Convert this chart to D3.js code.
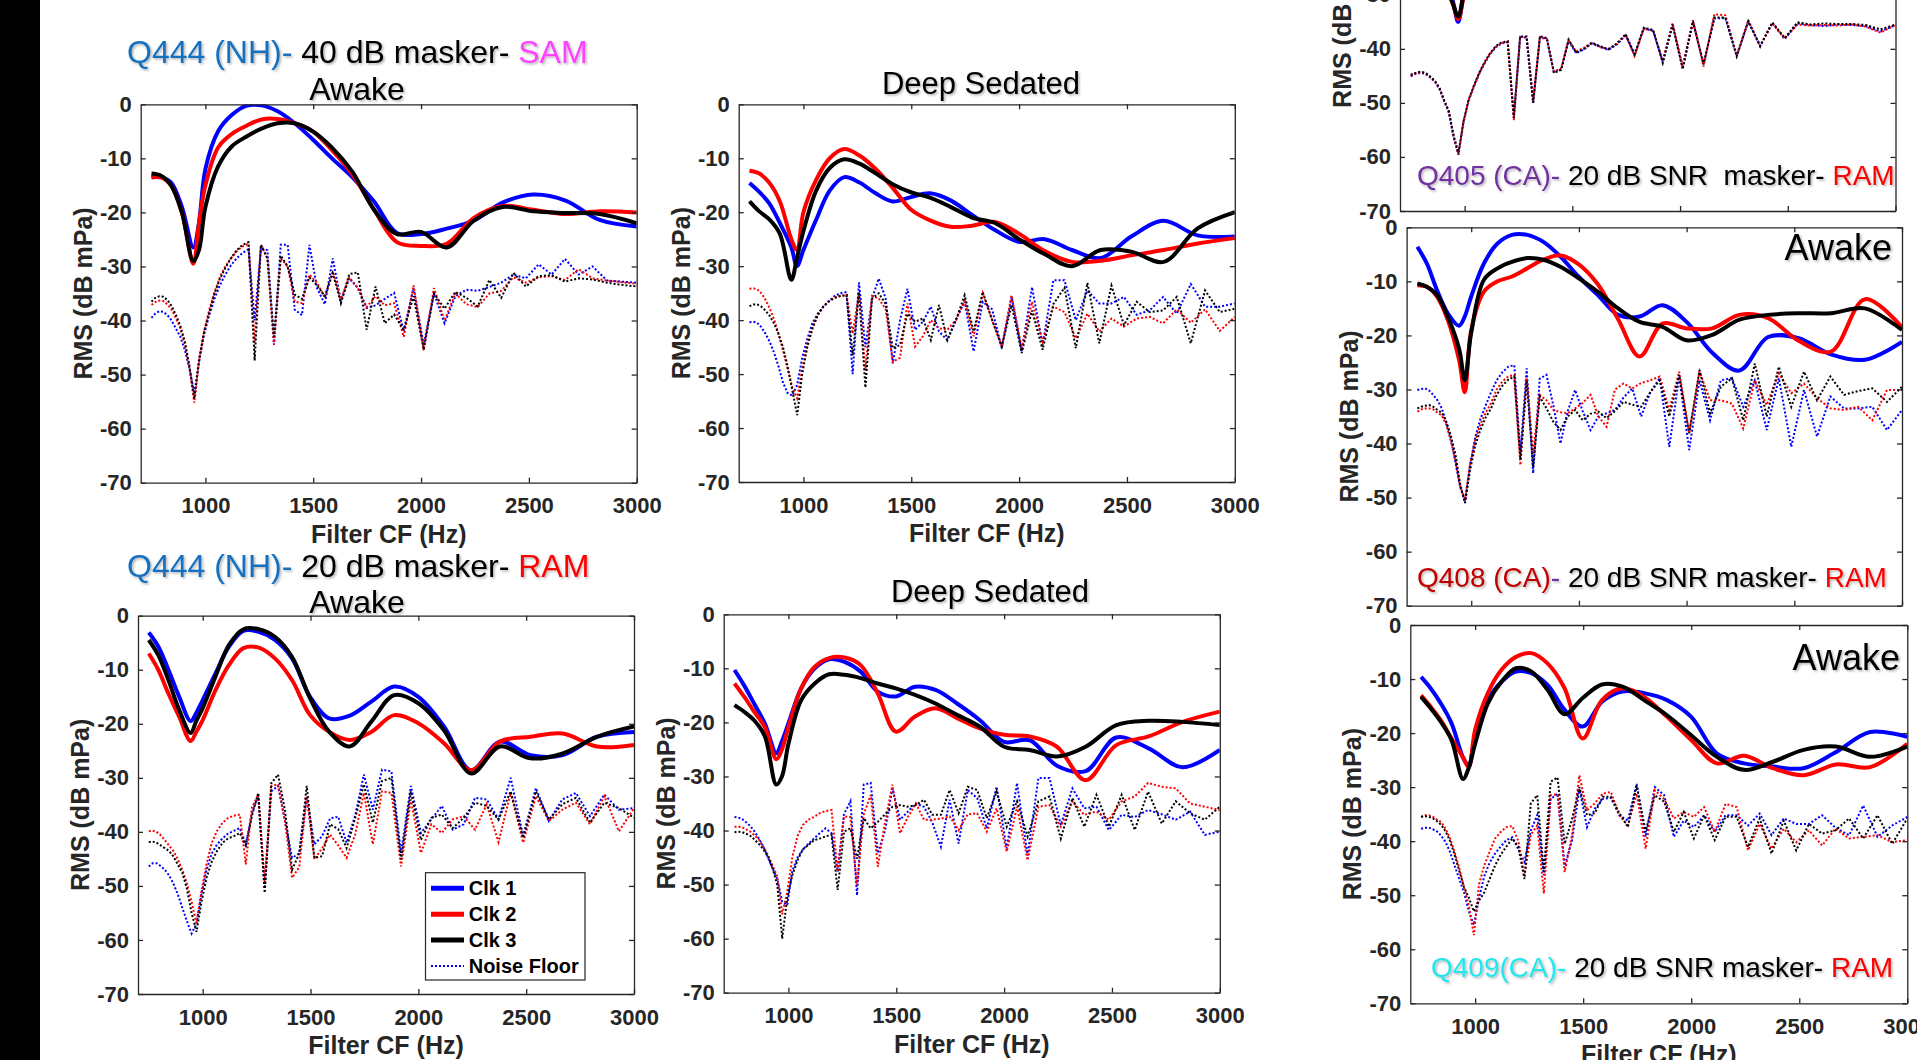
<!DOCTYPE html>
<html>
<head>
<meta charset="utf-8">
<title>RMS vs Filter CF</title>
<script src="https://cdn.jsdelivr.net/npm/d3@7"></script>
<style>
  body { margin: 0; background: #fff; overflow: hidden; }
  svg { display: block; font-family: "Liberation Sans", Arial, Helvetica, sans-serif; }
</style>
</head>
<body>
<script>
const WIDTH = 1917, HEIGHT = 1060;

// filter centre frequencies (Hz)
const cfClk = [750, 794, 841, 891, 944, 970, 1000, 1059, 1122, 1189, 1260, 1335, 1414, 1498,
  1587, 1682, 1782, 1888, 2000, 2119, 2245, 2378, 2520, 2670, 2828, 3000];
const cfNoise = [750, 767.8, 786.1, 804.8, 823.9, 843.5, 863.5, 884.1, 905.1, 926.6,
  948.6, 971.2, 994.3, 1017.9, 1042.1, 1066.9, 1092.2, 1118.2, 1144.8, 1172.0,
  1199.9, 1228.4, 1257.6, 1287.5, 1318.1, 1349.4, 1381.5, 1414.4, 1448.0, 1482.4,
  1517.7, 1553.8, 1590.7, 1628.5, 1667.2, 1706.9, 1747.5, 1789.0, 1831.6, 1875.1,
  1919.7, 1965.3, 2012.1, 2059.9, 2108.9, 2159.0, 2210.4, 2262.9, 2316.7, 2371.8,
  2428.2, 2485.9, 2545.0, 2605.5, 2667.4, 2730.8, 2795.8, 2862.2, 2930.3, 3000];

const xTicks = [1000, 1500, 2000, 2500, 3000];
const yTicks = [0, -10, -20, -30, -40, -50, -60, -70];
const seriesNames = ["Clk 1", "Clk 2", "Clk 3", "Noise Floor"];

// Q444 40 dB SAM - awake
const aClk1 = [-13.5, -13.5, -14.5, -19, -26.5, -22, -12, -5, -2, -0.3, -0.2, -1.3, -3.5, -6.5, -10, -13.5, -18, -23.8, -24, -23, -21.5, -18.2, -16.7, -17.8, -21.4, -22.6];
const aClk2 = [-13.5, -13.5, -15, -20, -29.5, -22, -15, -8, -5.5, -4, -2.8, -2.7, -3.5, -5, -8.5, -13, -19.5, -25.5, -26.2, -25.8, -21, -18.8, -19.5, -20.3, -19.8, -20];
const aClk3 = [-12.8, -13.2, -15, -20, -29, -27, -19, -11.5, -7.8, -6, -4.5, -3.5, -3.5, -5, -8, -12.5, -19.5, -24, -23.6, -26.5, -21.5, -19, -19.8, -20.1, -20.3, -22];
const aNoise1 = [-39.5, -38.7, -38.3, -38.4, -39, -40, -41.5, -43, -45.5, -49, -53.5, -47.5, -42.5, -39, -36, -33.5, -31.5, -29.8, -28.5, -27.5,
  -26.8, -40, -26.5, -27, -44.5, -26, -26, -38, -39, -26, -34, -37, -28.5, -36.5, -32.2, -34, -37.7, -37.2, -36, -34.9,
  -42, -34, -44.5, -35, -40.5, -35.5, -34.3, -34.5, -33.8, -33, -31.5, -32.2, -29.6, -31.5, -28.6, -31.5, -30, -32.6, -32.8, -33];
const aNoise2 = [-37.1, -36.6, -36.3, -36.4, -37, -38, -39.6, -41.5, -44.5, -49, -55.2, -47.5, -42, -38, -34.8, -32, -30, -28.5, -27.2, -26.3,
  -25.8, -44, -26, -28.5, -44.5, -28.5, -30, -36.5, -36.8, -31.5, -33, -35.8, -31, -36, -32, -34, -37.5, -35.5, -37.2, -36.8,
  -43, -33.5, -45.5, -34, -40, -35, -37, -37.5, -35, -34.5, -32, -33, -32, -31.8, -32.5, -30.5, -32.2, -32.6, -32.9, -33.2];
const aNoise3 = [-36.5, -35.8, -35.5, -35.6, -36.2, -37.3, -39, -41, -44, -48.5, -54.5, -47, -42, -38.5, -35, -32.3, -30.3, -28.5, -27, -26,
  -25.5, -47.4, -26, -28.5, -43, -28, -30, -35.2, -36, -32, -33.5, -35.5, -31.2, -36.8, -31.4, -31.1, -41.7, -33.7, -40.5, -38.9,
  -41.7, -35.5, -45.4, -35, -37.8, -34.7, -35.8, -37.4, -32.5, -35.8, -31.2, -33.7, -31.8, -31.6, -32.8, -32.2, -32.4, -33, -33.4, -33.7];

// Q444 40 dB SAM - deep sedated
const bClk1 = [-14.6, -16.2, -18.3, -22, -26.5, -30, -27, -21.4, -16, -13.5, -14.5, -16.5, -18, -17.2, -16.5, -17.8, -20.5, -23.3, -25.5, -25, -27, -28.5, -24.5, -21.6, -24.3, -24.5];
const bClk2 = [-12.3, -12.8, -14.5, -18, -25, -27, -20, -14, -10, -8.3, -9.5, -12, -15.5, -19.5, -21.5, -22.7, -22.5, -21.8, -24, -27.2, -29.2, -29, -28, -27, -25.8, -24.8];
const bClk3 = [-18, -19.8, -21.3, -24, -32.5, -28.5, -23.5, -16, -11.8, -10.2, -11, -12.8, -14.8, -16.3, -17.3, -19, -21, -22, -25, -27.8, -30, -27, -27.3, -29.2, -23, -20];
const bNoise1 = [-40.4, -40.3, -40.5, -41.3, -42.5, -44, -46, -48.5, -51.5, -53.5, -54, -52, -47, -43.5, -40.5, -38.8, -37.5, -36.5, -35.5, -35,
  -34.8, -50, -33, -45, -36, -32.3, -36, -48, -40, -34.2, -41.8, -40.3, -37.5, -42.1, -43.7, -40, -36.5, -45.8, -36.6, -38,
  -45.2, -35.7, -45.8, -33.9, -44.6, -32.6, -32.6, -40, -34.5, -36.9, -36.9, -35.7, -39, -38.2, -35.7, -38.8, -33.3, -37.5, -37.5, -36.9];
const bNoise2 = [-34.2, -34.1, -34.3, -35, -36.2, -37.8, -39.8, -42.5, -45.5, -49, -52.5, -54.5, -49, -44.5, -41.5, -39, -37.5, -36.5, -35.8, -35.5,
  -35.3, -42.5, -35, -49.3, -35.5, -36, -38, -47.7, -47, -36.9, -44.9, -43, -40, -41.5, -41.8, -40, -36.5, -43, -35, -40,
  -44.9, -35.4, -45.2, -36.6, -44, -37.5, -38.5, -43.4, -38.8, -42.1, -39.7, -41.2, -39.7, -39.4, -40.6, -38, -40.5, -38, -42, -39.4];
const bNoise3 = [-37.4, -37.1, -37.1, -37.5, -38.2, -39.2, -40.6, -42.5, -45, -48.5, -53, -57.6, -50, -45, -41.5, -39, -37.5, -36.5, -35.9, -35.5,
  -35.4, -46.5, -34.8, -52.5, -36, -35, -37, -45.2, -44.6, -38.8, -40.3, -39.7, -43.7, -37.2, -43.7, -40, -35.4, -42.1, -34.8, -40,
  -44.9, -37.2, -46.1, -38.2, -45.5, -37, -34, -45.2, -33.1, -44.3, -33.6, -40.9, -36.6, -38.5, -38.2, -35.7, -44.3, -34.5, -38.5, -37.9];

// Q444 20 dB RAM - awake
const cClk1 = [-3.1, -5.7, -10, -15, -19.5, -18, -15.6, -10.7, -5.7, -2.8, -3, -4.5, -7.9, -15, -19, -18.5, -15.9, -13.1, -15, -20.5, -28.6, -23.3, -25.8, -25.8, -22.4, -21.5];
const cClk2 = [-7, -10, -14.4, -18.7, -23.2, -21.5, -19.3, -13.8, -9.1, -6, -5.9, -7.9, -11.9, -18.4, -21.5, -23, -21.5, -18.4, -19.9, -23.6, -28.6, -23.3, -22.4, -21.8, -24.2, -23.9];
const cClk3 = [-4.5, -7.3, -11.9, -17.4, -21.7, -19.5, -17.1, -11.3, -5.4, -2.5, -2.5, -3.9, -7.6, -15.3, -21.5, -24.2, -19.6, -14.7, -16.2, -21.2, -29.2, -24.2, -26.4, -25.5, -22.4, -20.5];
const cNoise1 = [-46.4, -45.8, -45.8, -46.3, -47, -48, -49.5, -51.5, -54, -56.5, -58.8, -57, -51.5, -47, -44, -42.3, -41.2, -40.3, -39.8, -39.3,
  -42.3, -36.5, -33.4, -50.5, -32.5, -31.5, -38, -44.8, -44, -33.5, -42.3, -40.8, -37.5, -37.2, -42, -37, -29.4, -35.9, -28.5, -28.8,
  -43.9, -31.5, -40.2, -37.7, -35.2, -39.6, -38.6, -33.7, -34, -37.7, -30, -40.8, -31.9, -38, -34, -32.8, -37.1, -33.1, -35.9, -35.6];
const cNoise2 = [-39.9, -39.8, -40, -40.6, -41.5, -42.5, -43.5, -45, -47, -49.5, -53, -56.9, -51, -46, -42, -39.8, -38.3, -37.4, -37, -36.8,
  -46, -35.5, -33.1, -49.4, -31.5, -31.2, -38, -48.5, -46.5, -33.4, -45.1, -43, -40.5, -42.5, -44.8, -40.5, -32.8, -42.3, -32.5, -32.8,
  -46.4, -34, -43.9, -38.6, -40.2, -37.7, -37.1, -39.6, -34.9, -41.9, -32.8, -42, -33.4, -38, -35.9, -34.6, -38.6, -33.4, -39.9, -35.6];
const cNoise3 = [-41.9, -41.8, -42, -42.5, -43, -43.5, -44.5, -46, -47.5, -50.5, -55, -58.5, -53, -48.5, -45.5, -43.5, -42, -41.2, -40.8, -40.2,
  -42.5, -37, -32.8, -51.3, -31, -29.4, -36, -47, -44, -31.5, -44.8, -44.5, -38.6, -39.5, -43, -37.5, -31.2, -38.3, -30.6, -30,
  -45.1, -32.5, -41.5, -37.4, -36.8, -39.3, -37.4, -34.6, -35.2, -37.7, -32.5, -41.1, -32.5, -37.7, -34.9, -33.7, -38.3, -34.6, -35.6, -37.4];

// Q444 20 dB RAM - deep sedated
const dClk1 = [-10.3, -13.1, -16.5, -20.2, -25.7, -23.5, -20.2, -13.7, -10, -8.3, -8.8, -10.6, -14.3, -15.2, -13.4, -14, -16.5, -19.6, -23.6, -23.3, -28, -29, -22.8, -24.8, -28.3, -25.1];
const dClk2 = [-12.8, -15.2, -18, -20.9, -26.8, -25, -20.9, -13.7, -9.7, -8.1, -8, -9.4, -14.6, -21.7, -18.9, -17.4, -19.2, -21.1, -22.3, -22.6, -24.5, -30.7, -24.2, -22.6, -19.9, -18];
const dClk3 = [-16.8, -18, -19.6, -22.6, -31.5, -30, -24, -15.9, -12.8, -11.1, -11.2, -11.8, -12.8, -13.7, -14.9, -16.5, -18.6, -20.8, -24.5, -25.1, -26.3, -24.5, -20.5, -19.7, -19.9, -20.5];
const dNoise1 = [-37.5, -37.6, -37.9, -38.5, -39.2, -40.2, -41.5, -43, -45, -47, -49, -53.2, -53.8, -47.5, -45, -43.5, -42.5, -41.5, -40.5, -39.6,
  -40.5, -47.6, -37, -34.6, -52, -31.5, -31.2, -44.2, -40, -32.2, -38, -36.5, -35, -35.6, -38.5, -43, -34.3, -42.4, -32.5, -34,
  -39.6, -31.9, -43.3, -31.2, -44.6, -30.3, -30.3, -39, -32.2, -35.9, -35.6, -39.9, -37.1, -37.5, -36.2, -37, -38, -36.5, -40.8, -40.2];
const dNoise2 = [-39.3, -39.3, -39.4, -39.8, -40.2, -40.9, -41.7, -43, -44.5, -46.5, -48.5, -55.5, -51.5, -45, -41, -39, -38, -37.5, -36.8, -36.4,
  -36.2, -47.6, -37.4, -37.5, -50.1, -37, -33.4, -46.7, -38.5, -31.5, -40.5, -37.5, -35, -38, -38, -37.8, -37.4, -39.9, -37, -36.8,
  -40.2, -35.9, -43.9, -35.6, -45.5, -35.6, -35.3, -39.3, -34.6, -37.1, -36.5, -38, -34.6, -33.7, -31.2, -31.9, -32.2, -35, -35.6, -36.2];
const dNoise3 = [-40.3, -40.2, -40.3, -40.6, -41, -41.7, -42.5, -43.5, -44.8, -47, -50.1, -60, -52.6, -48.3, -45.5, -43.5, -42.7, -41.8, -41.5, -41.1,
  -40.8, -51, -40.2, -39.6, -45.2, -37.7, -39.6, -38.4, -37, -35.6, -35.3, -35.6, -35.3, -34.3, -37.1, -37.1, -32.5, -36.8, -31.9, -32.5,
  -37.7, -32.8, -39.3, -34.6, -41.1, -34.6, -33.7, -41.5, -34, -39.3, -33.4, -39.3, -33.4, -39.9, -32.8, -38.7, -34.6, -36.8, -38, -35.6];

// Q405 - awake (upper part cut off)
const eClk1 = [-19, -20, -22, -25.5, -31, -35, -28, -18, -10, -6, -5, -6, -8, -11, -14, -17, -19, -20, -21, -22, -22, -21, -20, -21, -22, -23];
const eClk2 = [-21, -22, -24, -27, -31.5, -34.5, -29.5, -21, -13, -9, -7, -8, -10, -13, -15, -17, -18, -19, -20, -21, -21, -22, -22, -21, -21, -22];
const eClk3 = [-20, -21, -23, -26, -31.5, -34, -29, -20, -12, -8, -6, -7, -9, -12, -14, -16, -18, -19, -20, -21, -22, -22, -21, -21, -22, -22];
const eNoise1 = [-45.1, -44.7, -44.5, -44.5, -44.8, -45.4, -46.2, -47.5, -49.7, -51.8, -56.3, -59.6, -53.7, -49.7, -47.1, -44.7, -42.7, -41, -39.7, -39,
  -38.8, -52.6, -37.8, -37.9, -49.9, -37.9, -38.2, -44.3, -43.9, -38.5, -40.8, -40.1, -39, -39.6, -40.2, -39.2, -37.5, -41.2, -36.2, -36.7,
  -42.4, -35.6, -43.5, -35, -42.7, -34.4, -34.3, -41.3, -35, -39.4, -35.2, -38.2, -35.3, -35.6, -35.8, -35.5, -35.6, -35.8, -36.8, -35.6];
const eNoise2 = [-45, -44.6, -44.4, -44.4, -44.7, -45.3, -46.1, -47.4, -49.6, -51.7, -56.2, -59.5, -53.6, -49.6, -47, -44.6, -42.6, -40.9, -39.6, -38.9,
  -38.7, -53.2, -37.8, -37.8, -49.8, -37.8, -38.1, -44.2, -43.6, -38.4, -40.5, -39.8, -38.8, -39.7, -40, -39.1, -37.4, -41.3, -36.3, -36.6,
  -42.2, -35.3, -43.2, -34.7, -43.3, -33.6, -33.8, -41.2, -34.7, -39.6, -35.3, -38.1, -35.5, -35.7, -35.6, -35.7, -35.5, -35.9, -37, -35.6];
const eNoise3 = [-44.8, -44.5, -44.3, -44.3, -44.6, -45.2, -46, -47.3, -49.5, -51.5, -56, -59.3, -53.5, -49.5, -46.9, -44.5, -42.5, -40.8, -39.5, -38.8,
  -38.6, -52.8, -37.7, -37.7, -50, -37.7, -38, -44.5, -43.8, -38.3, -40.7, -40, -38.9, -39.5, -40.1, -39, -37.3, -41, -36.1, -36.5,
  -42.6, -35.5, -43.8, -34.9, -42.9, -34.2, -34.2, -41.4, -34.9, -39.5, -35.1, -38, -35.1, -35.5, -35.3, -35.4, -35.4, -35.6, -36.4, -35.5];

// Q408 - awake
const fClk1 = [-3.6, -6.7, -11.6, -15.9, -18.2, -16.5, -12.8, -6.7, -3, -1.4, -1.4, -2.7, -5.4, -9.1, -12.5, -16.2, -16.5, -14.4, -17.5, -23.2, -26.5, -20.3, -20.5, -23.5, -24.5, -21.2];
const fClk2 = [-10.7, -11, -12.8, -17.1, -24.6, -30.5, -19, -11.9, -10, -9.1, -7.6, -6, -5.2, -6.8, -10.5, -17, -23.9, -17.8, -18.7, -18.7, -16.2, -16.8, -21, -23, -13.3, -18.5];
const fClk3 = [-10.4, -11, -12.5, -16.5, -22.5, -28.3, -19.5, -9.7, -7.6, -6.4, -5.7, -6, -7.3, -9.4, -11.9, -15, -17.5, -18.4, -20.9, -19.9, -17.1, -16.2, -15.9, -15.9, -15, -19];
const fNoise1 = [-30.1, -29.9, -29.8, -30.2, -31, -32, -33.5, -36, -39, -43.5, -48, -51, -44, -39, -35.5, -33, -30.5, -28.3, -26.8, -25.8,
  -25.5, -41.8, -26.1, -45.5, -28, -27.3, -33, -40, -34, -30.1, -34, -37.5, -35, -34.4, -33.8, -31.5, -29.8, -35, -30.5, -27.9,
  -40.6, -27.6, -41.2, -28.3, -35.7, -28.3, -27.9, -33.2, -28.3, -37.5, -27.9, -40.6, -30.1, -38.7, -31.3, -33.5, -33.5, -33.2, -37.5, -33.8];
const fNoise2 = [-34.1, -33.7, -33.5, -33.5, -33.7, -34.3, -34.8, -36.5, -39.5, -43, -48, -50.2, -44, -39.5, -36.5, -34.3, -32.5, -30, -28.5, -27.6,
  -27.3, -44, -27.9, -41.8, -31, -32, -33.8, -34.2, -34.4, -33.5, -32.5, -31, -35, -36.9, -30, -28.9, -29.8, -28.8, -28.3, -27.6,
  -33.8, -26.7, -38.1, -26.7, -32, -32, -32.6, -37.2, -28.3, -32.9, -27, -30.7, -28.9, -31.6, -33.5, -33.8, -33.2, -35.7, -30.1, -30.1];
const fNoise3 = [-33.5, -33.2, -33, -32.9, -33.2, -33.8, -34.3, -36, -38.5, -42, -47.5, -51, -45, -40.5, -37.5, -35.2, -33.5, -31, -29.3, -28.2,
  -27.6, -43, -28.3, -44.3, -31.3, -33.5, -36, -37.5, -35, -33.8, -35.7, -34.5, -34.1, -35.3, -34, -32.3, -32.8, -33.2, -30.5, -28.3,
  -35, -27.3, -38.1, -26.4, -34.4, -29.5, -27.9, -35.7, -25.2, -35, -25.8, -33.2, -26.7, -32, -27.6, -31, -30.3, -29.8, -32.3, -29.5];

// Q409 - awake
const gClk1 = [-9.6, -11.7, -14.5, -18.2, -24.5, -26, -20.5, -13.9, -10.5, -8.6, -8.9, -11.1, -15.7, -18.8, -14.2, -12.3, -12.6, -13.9, -17, -23.8, -25.6, -26.2, -26.5, -23.5, -19.8, -20.7];
const gClk2 = [-13, -15.1, -17.6, -21, -24.5, -26.3, -19.4, -12.6, -8.3, -5.9, -5.2, -7.1, -11.7, -21, -13.9, -11.7, -13.3, -17, -21.3, -25.6, -24.2, -26.5, -27.8, -25.8, -26.3, -22];
const gClk3 = [-13.3, -15.4, -17.9, -21.3, -28.5, -26.5, -22, -14.5, -10.5, -8, -8.6, -12, -16.5, -13.5, -11, -11.4, -13.9, -16.7, -20.4, -24.4, -26.8, -25.3, -23.1, -22.5, -24.4, -22.5];
const gNoise1 = [-37.7, -37.5, -37.5, -37.8, -38.2, -39, -40.2, -42, -44.5, -47, -49.5, -53, -55.5, -50.6, -46.5, -44, -42.3, -41, -39.8, -39.3,
  -41.5, -43.8, -38, -35.2, -46.3, -32.2, -31.2, -44.5, -40, -30.3, -37.4, -34, -32.2, -32, -35.2, -36.2, -29.4, -39.2, -30, -31.5,
  -39.2, -36.2, -37.4, -35.2, -38.3, -35.2, -35.2, -37.1, -34.9, -38.9, -35.8, -36.8, -36.8, -35.2, -37.5, -38.9, -33.4, -39.2, -37.1, -35.5];
const gNoise2 = [-35.5, -35.2, -35.2, -35.5, -36, -36.5, -37.7, -39.5, -42, -45, -48.5, -52, -57.4, -48, -44.5, -42, -39.5, -38.3, -37.4, -37.2,
  -40, -46.3, -38.8, -37.1, -49.7, -31.5, -31.3, -45.7, -39, -27.8, -34.3, -33, -31.2, -30.9, -35.2, -37.1, -31.2, -41.4, -30.6, -32.2,
  -35.8, -34.6, -35.5, -33.7, -38.3, -33.1, -33.7, -41.7, -36.8, -41.4, -37.7, -40.2, -38, -40.8, -37.7, -39.5, -39.2, -38.9, -40.2, -39.8];
const gNoise3 = [-35.5, -35.4, -35.5, -35.8, -36.3, -37, -38.2, -40, -42.5, -45.5, -48.5, -50.5, -53, -51, -49.5, -47, -44.5, -42.5, -41, -39.5,
  -41, -47, -33, -31.5, -45.7, -29, -28.2, -40.5, -36, -30, -35.2, -34.8, -31.8, -31.8, -34.8, -37.4, -29.7, -38.3, -31.5, -32.7,
  -38.3, -34.6, -39.5, -35.2, -39.8, -35.5, -35.5, -41.1, -35.8, -42.3, -36.2, -41.7, -36.8, -38.6, -38, -35.8, -39.5, -35.2, -40.5, -35.8];

const COLORS = ["#0000ff", "#ff0000", "#000000"];
const AXIS_COLOR = "#262626";
const BLUE_TXT = "#1470c0";

// where each axes box sits on the slide
const panels = [
  { clk: [aClk1, aClk2, aClk3], noise: [aNoise1, aNoise2, aNoise3], box: { x0: 140.7, x1: 636.7, y0: 104.3, y1: 482.7 }, xLabels: true },
  { clk: [bClk1, bClk2, bClk3], noise: [bNoise1, bNoise2, bNoise3], box: { x0: 738.7, x1: 1234.8, y0: 104.3, y1: 482 }, xLabels: true },
  { clk: [cClk1, cClk2, cClk3], noise: [cNoise1, cNoise2, cNoise3], box: { x0: 138, x1: 634, y0: 615.7, y1: 994 }, xLabels: true, legend: true },
  { clk: [dClk1, dClk2, dClk3], noise: [dNoise1, dNoise2, dNoise3], box: { x0: 723.7, x1: 1219.8, y0: 614.3, y1: 992.7 }, xLabels: true },
  { clk: [eClk1, eClk2, eClk3], noise: [eNoise1, eNoise2, eNoise3], box: { x0: 1400, x1: 1895.5, y0: -167.4, y1: 211 }, xLabels: false },
  { clk: [fClk1, fClk2, fClk3], noise: [fNoise1, fNoise2, fNoise3], box: { x0: 1406.6, x1: 1902, y0: 227.3, y1: 605.7 }, xLabels: false },
  { clk: [gClk1, gClk2, gClk3], noise: [gNoise1, gNoise2, gNoise3], box: { x0: 1410.3, x1: 1907.3, y0: 625, y1: 1003.3 }, xLabels: true }
];

const titles = [
  { x: 127, y: 63, size: 32, anchor: "start", parts: [["Q444 (NH)-", BLUE_TXT], [" 40 dB masker- ", "#000"], ["SAM", "#ff40ff"]] },
  { x: 357, y: 100, size: 32, anchor: "middle", parts: [["Awake", "#000"]] },
  { x: 981, y: 93.5, size: 31, anchor: "middle", parts: [["Deep Sedated", "#000"]] },
  { x: 127, y: 577, size: 32, anchor: "start", parts: [["Q444 (NH)-", BLUE_TXT], [" 20 dB masker- ", "#000"], ["RAM", "#ff0000"]] },
  { x: 357, y: 613, size: 32, anchor: "middle", parts: [["Awake", "#000"]] },
  { x: 990, y: 602, size: 31, anchor: "middle", parts: [["Deep Sedated", "#000"]] },
  { x: 1417, y: 185, size: 28, anchor: "start", parts: [["Q405 (CA)-", "#7030a0"], [" 20 dB SNR  masker- ", "#000"], ["RAM", "#ff0000"]] },
  { x: 1892, y: 260, size: 36, anchor: "end", parts: [["Awake", "#000"]] },
  { x: 1417, y: 587, size: 28, anchor: "start", parts: [["Q408 (CA)", "#c00000"], ["-", "#7030a0"], [" 20 dB SNR masker- ", "#000"], ["RAM", "#ff0000"]] },
  { x: 1900, y: 670, size: 36, anchor: "end", parts: [["Awake", "#000"]] },
  { x: 1431, y: 977, size: 28, anchor: "start", parts: [["Q409(CA)-", "#22e6ee"], [" 20 dB SNR masker- ", "#000"], ["RAM", "#ff0000"]] }
];

const svg = d3.select("body").append("svg")
  .attr("width", WIDTH)
  .attr("height", HEIGHT);

const defs = svg.append("defs");
defs.append("filter").attr("id", "shadow")
  .attr("x", "-5%").attr("y", "-30%").attr("width", "110%").attr("height", "160%")
  .append("feDropShadow")
    .attr("dx", 1.5).attr("dy", 1.5).attr("stdDeviation", 1)
    .attr("flood-color", "#000").attr("flood-opacity", 0.3);

svg.append("rect").attr("width", WIDTH).attr("height", HEIGHT).attr("fill", "#fff");
// black strip down the left edge of the slide
svg.append("rect").attr("x", 0).attr("y", 0).attr("width", 40).attr("height", HEIGHT).attr("fill", "#000");

panels.forEach((p, k) => {
  const b = p.box;
  const x = d3.scaleLinear().domain([700, 3000]).range([b.x0, b.x1]);
  const y = d3.scaleLinear().domain([-70, 0]).range([b.y1, b.y0]);
  const g = svg.append("g");

  defs.append("clipPath").attr("id", "clip" + k)
    .append("rect").attr("x", b.x0).attr("y", b.y0).attr("width", b.x1 - b.x0).attr("height", b.y1 - b.y0);
  const plot = g.append("g").attr("clip-path", `url(#clip${k})`);

  const noiseLine = d3.line().x((d, i) => x(cfNoise[i])).y(d => y(d));
  const clkLine = d3.line()
    .curve(d3.curveCatmullRom.alpha(0.5))
    .x((d, i) => x(cfClk[i])).y(d => y(d));

  p.noise.forEach((s, j) => {
    plot.append("path").datum(s)
      .attr("d", noiseLine)
      .attr("fill", "none")
      .attr("stroke", COLORS[j])
      .attr("stroke-width", 2)
      .attr("stroke-dasharray", "2 2");
  });
  p.clk.forEach((s, j) => {
    plot.append("path").datum(s)
      .attr("d", clkLine)
      .attr("fill", "none")
      .attr("stroke", COLORS[j])
      .attr("stroke-width", 4)
      .attr("stroke-linejoin", "round");
  });

  // box with inward ticks on all four sides
  g.append("g").attr("transform", `translate(0,${b.y1})`)
    .call(d3.axisBottom(x).tickValues(xTicks).tickSizeInner(-5).tickSizeOuter(0).tickPadding(15)
      .tickFormat(d => p.xLabels ? String(d) : ""));
  g.append("g").attr("transform", `translate(0,${b.y0})`)
    .call(d3.axisTop(x).tickValues(xTicks).tickSizeInner(-5).tickSizeOuter(0).tickFormat(() => ""));
  g.append("g").attr("transform", `translate(${b.x0},0)`)
    .call(d3.axisLeft(y).tickValues(yTicks).tickSizeInner(-5).tickSizeOuter(0).tickPadding(9)
      .tickFormat(d => String(d)));
  g.append("g").attr("transform", `translate(${b.x1},0)`)
    .call(d3.axisRight(y).tickValues(yTicks).tickSizeInner(-5).tickSizeOuter(0).tickFormat(() => ""));

  g.selectAll(".domain, .tick line").attr("stroke", AXIS_COLOR).attr("stroke-width", 1.3);
  g.selectAll(".tick text")
    .attr("font-family", "'Liberation Sans', Arial, sans-serif")
    .attr("font-size", 22)
    .attr("font-weight", "bold")
    .attr("fill", AXIS_COLOR);

  g.append("text")
    .attr("transform", `translate(${b.x0 - 49},${(b.y0 + b.y1) / 2}) rotate(-90)`)
    .attr("text-anchor", "middle")
    .attr("font-size", 25)
    .attr("font-weight", "bold")
    .attr("fill", AXIS_COLOR)
    .text("RMS (dB mPa)");

  if (p.xLabels) {
    g.append("text")
      .attr("x", (b.x0 + b.x1) / 2)
      .attr("y", b.y1 + 60)
      .attr("text-anchor", "middle")
      .attr("font-size", 25)
      .attr("font-weight", "bold")
      .attr("fill", AXIS_COLOR)
      .text("Filter CF (Hz)");
  }

  if (p.legend) {
    const lg = g.append("g").attr("transform", "translate(425.5,872.7)");
    lg.append("rect").attr("width", 159.5).attr("height", 107.3)
      .attr("fill", "#fff").attr("stroke", AXIS_COLOR).attr("stroke-width", 1.2);
    seriesNames.forEach((name, j) => {
      const cy = 15.6 + j * 25.9;
      lg.append("line")
        .attr("x1", 5.5).attr("x2", 38.5).attr("y1", cy).attr("y2", cy)
        .attr("stroke", j < 3 ? COLORS[j] : COLORS[0])
        .attr("stroke-width", j < 3 ? 5 : 2)
        .attr("stroke-dasharray", j < 3 ? null : "2 2");
      lg.append("text")
        .attr("x", 43.2).attr("y", cy).attr("dy", "0.36em")
        .attr("font-size", 20).attr("font-weight", "bold").attr("fill", "#000")
        .text(name);
    });
  }
});

// slide text (titles and annotations)
titles.forEach(t => {
  const txt = svg.append("text")
    .attr("x", t.x).attr("y", t.y)
    .attr("text-anchor", t.anchor)
    .attr("font-size", t.size)
    .attr("filter", "url(#shadow)")
    .style("white-space", "pre");
  t.parts.forEach(([s, c]) => txt.append("tspan").attr("fill", c).text(s));
});
</script>
</body>
</html>
